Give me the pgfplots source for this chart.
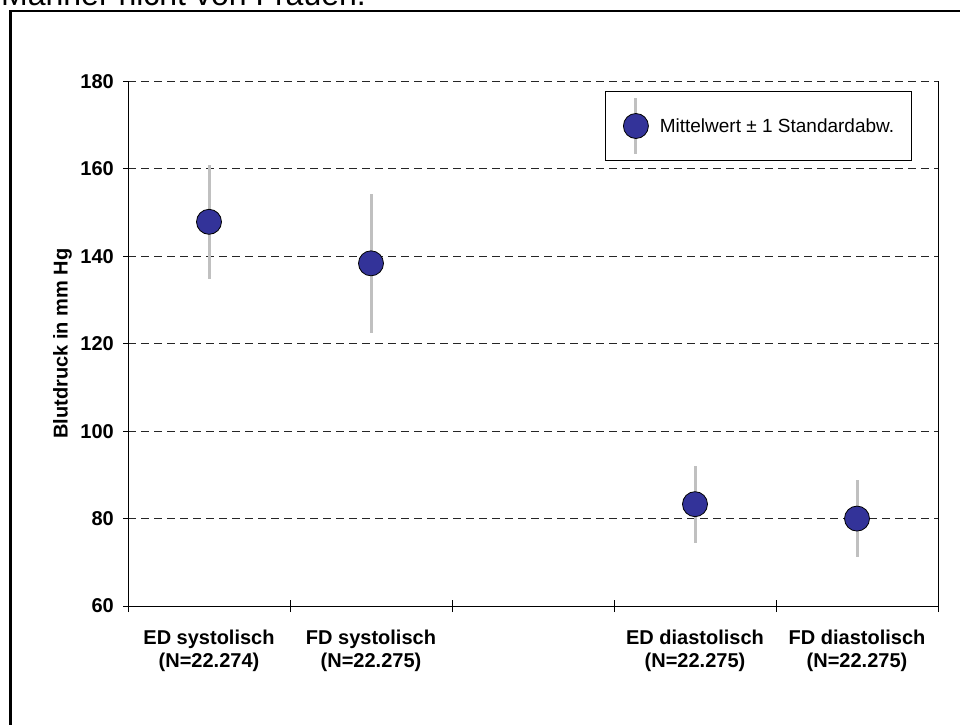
\documentclass[border=0pt]{standalone}
\usepackage{fontspec}
\setmainfont{Liberation Sans}
\usepackage{pgfplots}
\pgfplotsset{compat=1.18}

\definecolor{markblue}{HTML}{333399}
\definecolor{barGray}{HTML}{C0C0C0}

\begin{document}
\begin{tikzpicture}
% outer chart frame, running past the right and bottom page edges
\draw[line width=2.2pt] (975pt,-20pt) -- (10.5pt,-20pt) -- (10.5pt,713pt) -- (975pt,713pt);
% tail of the preceding text line, cut at the top edge
\node[anchor=base west, inner sep=0pt, font=\fontsize{32}{36}\selectfont] at (1pt,718pt) {Männer nicht von Frauen.};

\begin{axis}[
  at={(128pt,118pt)}, anchor=south west,
  scale only axis, width=810pt, height=524.5pt,
  xmin=-0.5, xmax=4.5, ymin=60, ymax=180,
  axis x line*=bottom, axis y line*=left,
  axis line style={line width=1pt, -},
  xtick={0,1,3,4},
  xticklabels={{ED systolisch\\(N=22.274)},{FD systolisch\\(N=22.275)},{ED diastolisch\\(N=22.275)},{FD diastolisch\\(N=22.275)}},
  minor xtick={-0.5,0.5,1.5,2.5,3.5,4.5},
  major x tick style={draw=none},
  minor x tick style={black, line width=1pt},
  minor tick length=12pt,
  xtick align=center,
  ytick={60,80,...,180},
  ytick align=outside,
  major tick length=5pt,
  major y tick style={black, line width=1pt},
  ymajorgrids,
  grid style={black!85, dash pattern=on 8pt off 5pt, line width=1pt},
  /pgf/number format/assume math mode=true,
  yticklabel style={font=\fontsize{20}{24}\selectfont\bfseries, anchor=east, inner sep=0pt, xshift=-9pt},
  xticklabel style={font=\fontsize{20}{23}\selectfont\bfseries, align=center, anchor=north, inner sep=0pt, yshift=-21pt},
  ylabel={Blutdruck in mm Hg},
  every axis y label/.style={at={(axis description cs:-0.081,0.5)}, rotate=90, anchor=center, font=\fontsize{20}{24}\selectfont\bfseries},
  legend style={at={(0.5889,0.9819)}, anchor=north west, draw=black, line width=1pt,
    fill=white, inner xsep=17.5pt, inner ysep=5pt,
    nodes={inner sep=0pt}, font=\fontsize{19}{22}\selectfont,
    /tikz/every odd column/.append style={column sep=11pt}},
  legend cell align=left,
  clip=false,
]
\addplot[only marks, mark=*, mark size=12.5pt,
  mark options={fill=markblue, draw=black, line width=0.8pt},
  legend image code/.code={
    \draw[barGray, line width=3pt] (12.5pt,-28pt) -- (12.5pt,28pt);
    \draw[fill=markblue, draw=black, line width=0.8pt] (12.5pt,0pt) circle (12.5pt);
  },
  error bars/.cd, y dir=both, y explicit, error mark=none,
  error bar style={barGray, line width=3pt},
  ]
  table[x=x, y=y, y error=sd] {
  x  y      sd
  0  147.9  13.1
  1  138.4  15.9
  3  83.3   8.8
  4  80.0   8.85
  };
\addlegendentry{Mittelwert ± 1 Standardabw.}
% right border of the plot area
\draw[line width=1pt] (rel axis cs:1,0) -- (rel axis cs:1,1);
\end{axis}
\pgfresetboundingbox
\useasboundingbox (0pt,0pt) rectangle (960pt,724pt);
\end{tikzpicture}
\end{document}
